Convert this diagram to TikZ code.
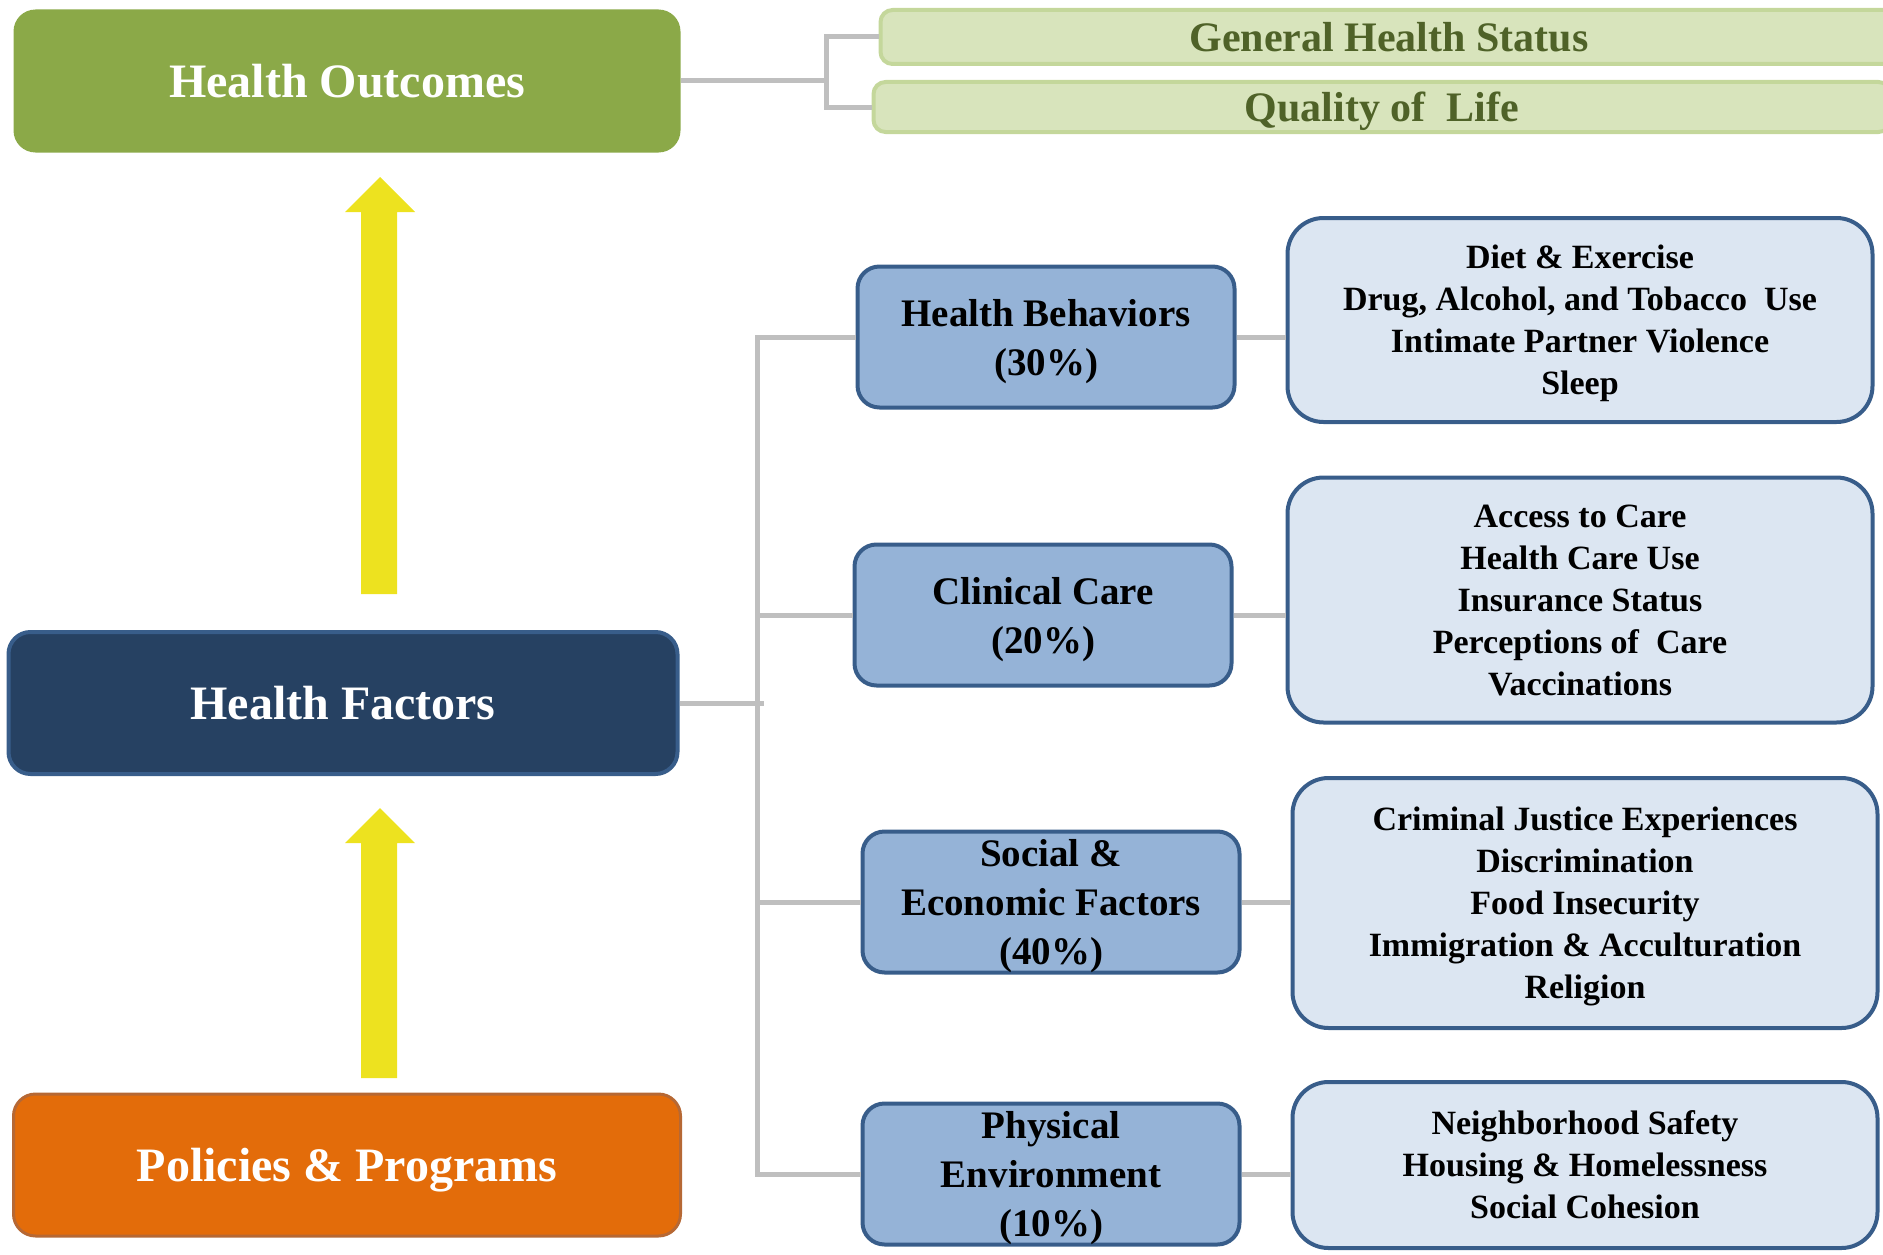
\documentclass[tikz,border=0pt]{standalone}
\usepackage{fontspec}
\setmainfont{Liberation Serif}
\usetikzlibrary{positioning}
\definecolor{outgreen}{RGB}{139,169,72}
\definecolor{outlight}{RGB}{216,228,188}
\definecolor{outedge}{RGB}{196,215,155}
\definecolor{outtext}{RGB}{79,98,40}
\definecolor{navy}{RGB}{38,65,98}
\definecolor{navyedge}{RGB}{56,93,138}
\definecolor{policyorange}{RGB}{227,108,10}
\definecolor{policyedge}{RGB}{182,104,52}
\definecolor{midblue}{RGB}{149,179,215}
\definecolor{lightblue}{RGB}{220,230,242}
\definecolor{linkgray}{RGB}{191,191,191}
\definecolor{arrowyellow}{RGB}{237,226,31}

\begin{document}
\begin{tikzpicture}[x=1pt, y=-1pt,
  big/.style={rounded corners=22pt, minimum width=667pt, minimum height=143pt, text=white, font=\fontsize{48}{58}\selectfont\bfseries},
  outcome/.style={draw=outedge, line width=4pt, fill=outlight, rounded corners=12pt, minimum width=1017pt, inner ysep=0pt, text=outtext, font=\fontsize{42}{50}\selectfont\bfseries},
  factor/.style={draw=navyedge, line width=4pt, fill=midblue, rounded corners=22pt, minimum width=377pt, minimum height=141pt, inner sep=2pt, text depth=0pt, align=center, font=\fontsize{39}{49}\selectfont\bfseries},
  detail/.style={draw=navyedge, line width=4pt, fill=lightblue, rounded corners=36pt, minimum width=585pt, inner sep=2pt, text depth=-3pt, align=center, font=\fontsize{34}{42}\selectfont\bfseries},
  link/.style={draw=linkgray, line width=5pt}]
\useasboundingbox (0,0) rectangle (1883,1255);

\node[big, fill=outgreen] (ho) at (347,81) {Health Outcomes};
\node[big, fill=navy, draw=navyedge, line width=4pt, minimum width=669pt, minimum height=142pt] (hf) at (343,703) {Health Factors};
\node[big, fill=policyorange, draw=policyedge, line width=3pt, minimum height=142pt, text depth=0pt] (pp) at (347,1165) {Policies \& Programs};

\node[outcome, minimum height=54pt] (ghs) at (1389,37) {General Health Status};
\node[outcome, minimum height=50pt, text depth=0pt] (qol) at (1382,107) {Quality of~ Life};

\node[factor] (hb) at (1046,337) {Health Behaviors\\(30\%)};
\node[factor] (cc) at (1043,615) {Clinical Care\\(20\%)};
\node[factor] (sef) at (1051,902) {Social \&\\Economic Factors\\(40\%)};
\node[factor] (pe) at (1051,1174) {Physical\\Environment\\(10\%)};

\node[detail, minimum height=204pt] (r1) at (1580,320) {Diet \& Exercise\\Drug, Alcohol, and Tobacco~ Use\\Intimate Partner Violence\\Sleep};
\node[detail, minimum height=245pt] (r2) at (1580,600) {Access to Care\\Health Care Use\\Insurance Status\\Perceptions of~ Care\\Vaccinations};
\node[detail, minimum height=250pt] (r3) at (1585,903) {Criminal Justice Experiences\\Discrimination\\Food Insecurity\\Immigration \& Acculturation\\Religion};
\node[detail, minimum height=166pt] (r4) at (1585,1165) {Neighborhood Safety\\Housing \& Homelessness\\Social Cohesion};

\coordinate (hojoint) at (826,81);
\coordinate (trunk) at (757,703);
\draw[link] (ho.east) -- (hojoint);
\draw[link] (ghs.west) -| (hojoint) |- (qol.west);
\draw[link] (hf.east) -- ([xshift=7pt]trunk);
\draw[link] (hb.west) -| (trunk) |- (pe.west);
\draw[link] (cc.west) -- (trunk |- cc.west);
\draw[link] (sef.west) -- (trunk |- sef.west);
\foreach \a/\b in {hb/r1, cc/r2, sef/r3, pe/r4}
{
    \draw[link] (\a.east) -- (\a.east -| \b.west);
}

\foreach \t/\b in {177/594, 808/1078}
{
    \fill[arrowyellow] (361,\b) -- (361,\t+35) -- (345,\t+35) -- (380,\t) -- (415,\t+35) -- (397,\t+35) -- (397,\b) -- cycle;
}
\end{tikzpicture}
\end{document}
